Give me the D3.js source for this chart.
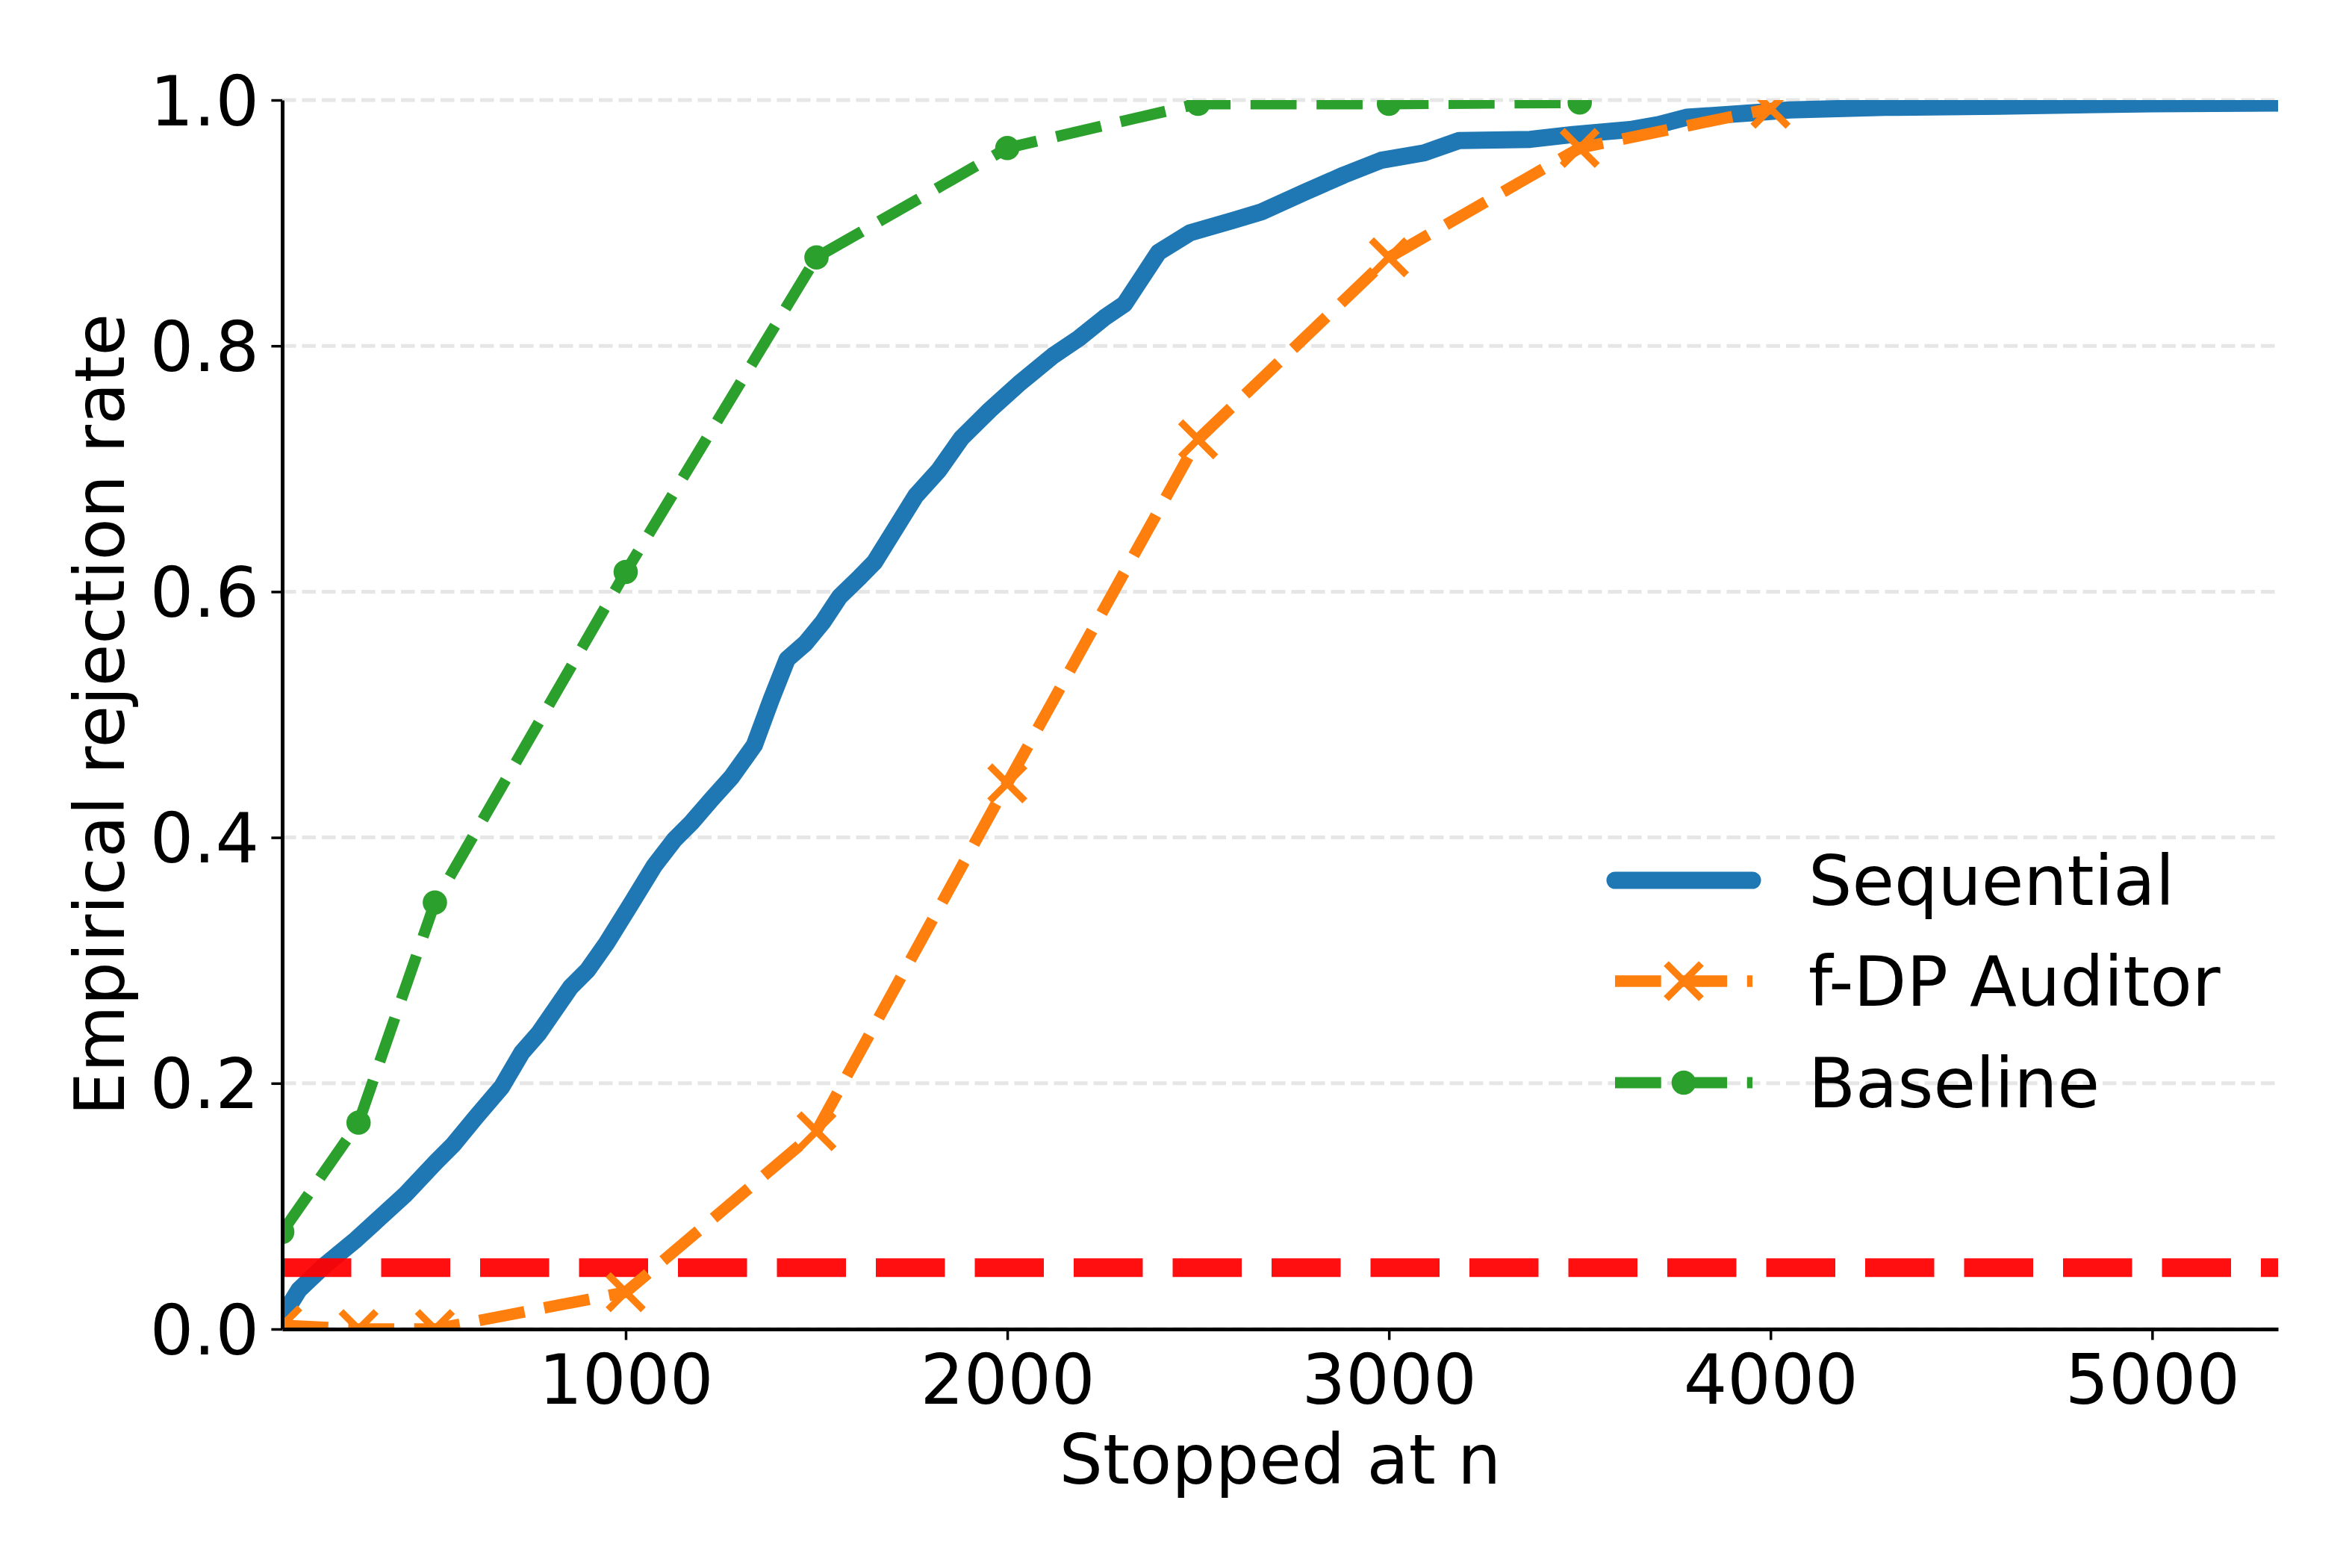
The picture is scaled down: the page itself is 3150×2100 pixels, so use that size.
<!DOCTYPE html>
<html>
<head>
<meta charset="utf-8">
<script src="https://cdn.jsdelivr.net/npm/d3@7"></script>
<style>
  html, body { margin: 0; padding: 0; background: #fff; }
  svg { display: block; font-family: "DejaVu Sans", sans-serif; }
</style>
</head>
<body>
<svg id="chart" width="3150" height="2100"></svg>
<script>
// --- data ---
var seqN = [100, 144, 212, 294, 354, 421, 503, 548, 609, 675, 728, 773, 855, 900, 950,
            1014, 1075, 1127, 1172, 1225, 1277, 1337, 1381, 1423, 1471, 1516, 1561, 1614,
            1652, 1712, 1760, 1821, 1880, 1955, 2030, 2120, 2187, 2255, 2307, 2396, 2479,
            2591, 2666, 2779, 2882, 2980, 3092, 3183, 3370, 3482, 3632, 3707, 3780, 3968,
            4050, 4300, 4600, 5000, 5330];
var seqVals = [0.010, 0.032, 0.052, 0.073, 0.090, 0.109, 0.136, 0.150, 0.173, 0.197, 0.225,
               0.241, 0.278, 0.292, 0.314, 0.346, 0.377, 0.398, 0.412, 0.431, 0.449, 0.475,
               0.512, 0.545, 0.558, 0.575, 0.596, 0.612, 0.624, 0.654, 0.678, 0.699, 0.725,
               0.748, 0.769, 0.792, 0.806, 0.823, 0.834, 0.876, 0.892, 0.902, 0.909, 0.925,
               0.939, 0.951, 0.957, 0.967, 0.968, 0.972, 0.976, 0.980, 0.986, 0.990, 0.992,
               0.994, 0.995, 0.997, 0.9975];

var auditorN = [100, 300, 500, 1000, 1500, 2000, 2500, 3000, 3500, 4000];
var auditorVals = [0.003, 0.0, 0.0, 0.030, 0.161, 0.444, 0.724, 0.872, 0.961, 0.993];

var baselineN = [100, 300, 500, 1000, 1500, 2000, 2500, 3000, 3500];
var baselineVals = [0.079, 0.168, 0.347, 0.616, 0.872, 0.961, 0.997, 0.997, 0.998];

var alphaLevel = 0.05;

var xTicks = [1000, 2000, 3000, 4000, 5000];
var yTicks = [0.0, 0.2, 0.4, 0.6, 0.8, 1.0];
var seriesNames = ["Sequential", "f-DP Auditor", "Baseline"];

(function() {
    // --- layout ---
    var plotLeft = 378, plotRight = 3051, plotTop = 134, plotBottom = 1780;
    var fontSize = 92;
    var seqWidth = 23, audWidth = 15.5, baseWidth = 15;
    var dashes = "61.7,26.7";

    var svg = d3.select("#chart");

    var x = d3.scaleLinear().domain([100, 5330]).range([plotLeft, plotRight]);
    var y = d3.scaleLinear().domain([0, 1]).range([plotBottom, plotTop]);

    svg.append("defs").append("clipPath").attr("id", "plotclip")
        .append("rect")
        .attr("x", plotLeft).attr("y", plotTop)
        .attr("width", plotRight - plotLeft).attr("height", plotBottom - plotTop);

    // grid (y only)
    svg.append("g").selectAll("line").data(yTicks).enter()
        .append("line")
        .attr("x1", plotLeft).attr("x2", plotRight)
        .attr("y1", function(d) { return y(d); })
        .attr("y2", function(d) { return y(d); })
        .attr("stroke", "#e6e6e6")
        .attr("stroke-width", 5)
        .attr("stroke-dasharray", "18.5,8");

    var plot = svg.append("g").attr("clip-path", "url(#plotclip)");

    var line = d3.line()
        .x(function(d) { return x(d[0]); })
        .y(function(d) { return y(d[1]); });

    // Sequential
    plot.append("path")
        .datum(d3.zip(seqN, seqVals))
        .attr("d", line)
        .attr("fill", "none")
        .attr("stroke", "#1f77b4")
        .attr("stroke-width", seqWidth)
        .attr("stroke-linejoin", "round")
        .attr("stroke-linecap", "round");

    // alpha level
    plot.append("line")
        .attr("x1", plotLeft).attr("x2", plotRight)
        .attr("y1", y(alphaLevel)).attr("y2", y(alphaLevel))
        .attr("stroke", "#ff0000")
        .attr("stroke-opacity", 0.94)
        .attr("stroke-width", 25)
        .attr("stroke-dasharray", "92.5,40");

    // f-DP Auditor
    var audData = d3.zip(auditorN, auditorVals);
    plot.append("path")
        .datum(audData)
        .attr("d", line)
        .attr("fill", "none")
        .attr("stroke", "#ff7f0e")
        .attr("stroke-width", audWidth)
        .attr("stroke-linejoin", "round")
        .attr("stroke-dasharray", dashes);

    function xMarker(g, cx, cy) {
        var h = 23.5;
        g.append("path")
            .attr("d", "M" + (cx - h) + "," + (cy - h) + "L" + (cx + h) + "," + (cy + h) +
                       "M" + (cx - h) + "," + (cy + h) + "L" + (cx + h) + "," + (cy - h))
            .attr("stroke", "#ff7f0e")
            .attr("stroke-width", 9.5)
            .attr("fill", "none");
    }
    audData.forEach(function(d) { xMarker(plot, x(d[0]), y(d[1])); });

    // Baseline
    var baseData = d3.zip(baselineN, baselineVals);
    plot.append("path")
        .datum(baseData)
        .attr("d", line)
        .attr("fill", "none")
        .attr("stroke", "#2ca02c")
        .attr("stroke-width", baseWidth)
        .attr("stroke-linejoin", "round")
        .attr("stroke-dasharray", dashes);

    plot.append("g").selectAll("circle").data(baseData).enter()
        .append("circle")
        .attr("cx", function(d) { return x(d[0]); })
        .attr("cy", function(d) { return y(d[1]); })
        .attr("r", 16.3)
        .attr("fill", "#2ca02c");

    // axes
    var xAxis = d3.axisBottom(x).tickValues(xTicks).tickSize(14.6).tickSizeOuter(0)
        .tickFormat(d3.format("d"));
    var yAxis = d3.axisLeft(y).tickValues(yTicks).tickSize(14.6).tickSizeOuter(0)
        .tickFormat(d3.format(".1f"));

    var gx = svg.append("g").attr("transform", "translate(0," + plotBottom + ")").call(xAxis);
    var gy = svg.append("g").attr("transform", "translate(" + plotLeft + ",0)").call(yAxis);

    [gx, gy].forEach(function(g) {
        g.select(".domain").attr("stroke", "#000").attr("stroke-width", 5);
        g.selectAll(".tick line").attr("stroke", "#000").attr("stroke-width", 3.5);
        g.selectAll(".tick text")
            .attr("fill", "#000")
            .attr("font-family", "DejaVu Sans")
            .attr("font-size", fontSize);
    });
    gx.selectAll(".tick text").attr("y", 100).attr("dy", 0);
    gy.selectAll(".tick text").attr("x", -31).attr("dy", "0.36em");

    // axis labels
    svg.append("text")
        .attr("x", (plotLeft + plotRight) / 2).attr("y", 1987)
        .attr("text-anchor", "middle")
        .attr("font-size", fontSize)
        .text("Stopped at n");

    svg.append("text")
        .attr("transform", "translate(166," + ((plotTop + plotBottom) / 2) + ") rotate(-90)")
        .attr("text-anchor", "middle")
        .attr("font-size", fontSize)
        .text("Empirical rejection rate");

    // legend (no frame)
    var legX0 = 2163, legX1 = 2347, legTextX = 2422;
    var legY = [1179, 1314, 1450];
    var legend = svg.append("g");

    legend.append("line")
        .attr("x1", legX0).attr("x2", legX1)
        .attr("y1", legY[0]).attr("y2", legY[0])
        .attr("stroke", "#1f77b4").attr("stroke-width", seqWidth)
        .attr("stroke-linecap", "round");

    legend.append("line")
        .attr("x1", legX0).attr("x2", legX1)
        .attr("y1", legY[1]).attr("y2", legY[1])
        .attr("stroke", "#ff7f0e").attr("stroke-width", audWidth)
        .attr("stroke-dasharray", dashes);
    xMarker(legend, (legX0 + legX1) / 2, legY[1]);

    legend.append("line")
        .attr("x1", legX0).attr("x2", legX1)
        .attr("y1", legY[2]).attr("y2", legY[2])
        .attr("stroke", "#2ca02c").attr("stroke-width", baseWidth)
        .attr("stroke-dasharray", dashes);
    legend.append("circle")
        .attr("cx", (legX0 + legX1) / 2).attr("cy", legY[2])
        .attr("r", 16.3).attr("fill", "#2ca02c");

    legend.selectAll("text").data(seriesNames).enter()
        .append("text")
        .attr("x", legTextX)
        .attr("y", function(d, i) { return legY[i]; })
        .attr("dy", "0.36em")
        .attr("font-size", fontSize)
        .text(function(d) { return d; });
})();
</script>
</body>
</html>
